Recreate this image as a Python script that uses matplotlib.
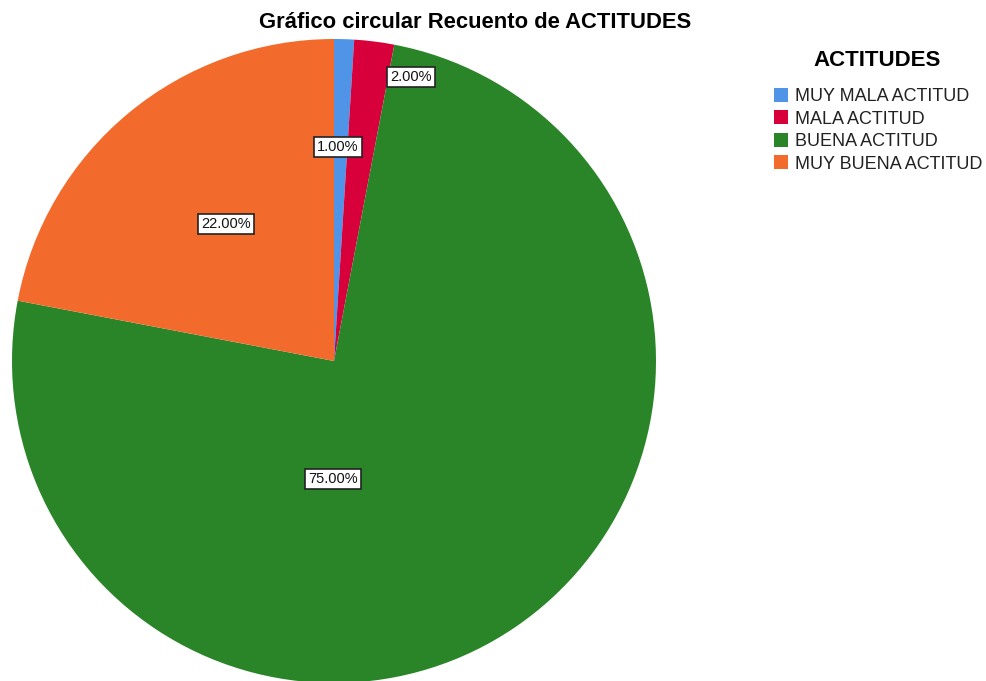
import numpy as np
import matplotlib
matplotlib.use("Agg")
import matplotlib.pyplot as plt

plt.rcParams["font.family"] = ["Liberation Sans", "DejaVu Sans"]

# Data
categorias = ["MUY MALA ACTITUD", "MALA ACTITUD", "BUENA ACTITUD", "MUY BUENA ACTITUD"]
porcentajes = [1.0, 2.0, 75.0, 22.0]
colores = ["#4F94E6", "#D7003A", "#2A8529", "#F26B2C"]

# label placement (angle in degrees, fraction of radius), as SPSS puts them
label_pos = [(88.9, 0.665), (74.8, 0.914), (-90.5, 0.366), (128.3, 0.542)]

W, H = 987, 681
cx, cy, R = 334, 361, 322

fig = plt.figure(figsize=(W / 100, H / 100), dpi=100)
ax = fig.add_axes([(cx - R) / W, (H - cy - R) / H, 2 * R / W, 2 * R / H])

wedges, _ = ax.pie(porcentajes, colors=colores, startangle=90, counterclock=False,
                   radius=1, wedgeprops=dict(linewidth=0))
ax.set_xlim(-1, 1)
ax.set_ylim(-1, 1)
ax.set_aspect("auto")
ax.axis("off")

for p, (ang, r) in zip(porcentajes, label_pos):
    a = np.deg2rad(ang)
    ax.text(r * np.cos(a), r * np.sin(a), f"{p:.2f}%", ha="center", va="center",
            fontsize=10.5, color="#111111",
            bbox=dict(boxstyle="square,pad=0.2", fc="white", ec="#222222", lw=1.2))

fig.text(475 / W, 1 - 22 / H, "Gráfico circular Recuento de ACTITUDES",
         ha="center", va="center", fontsize=15.8, fontweight="bold")

# legend title placed on its own, SPSS leaves a bigger gap under it
fig.text(877 / W, 1 - 61 / H, "ACTITUDES", ha="center", va="center",
         fontsize=16, fontweight="bold")

leg = fig.legend(wedges, categorias, loc="upper left",
                 bbox_to_anchor=(774 / W, 1 - 88 / H), frameon=False,
                 fontsize=13,
                 handlelength=0.78, handleheight=0.78, handletextpad=0.4,
                 labelspacing=0.3, borderaxespad=0, borderpad=0)
for t in leg.get_texts():
    t.set_color("#222222")

fig.savefig("out.png", dpi=100)
